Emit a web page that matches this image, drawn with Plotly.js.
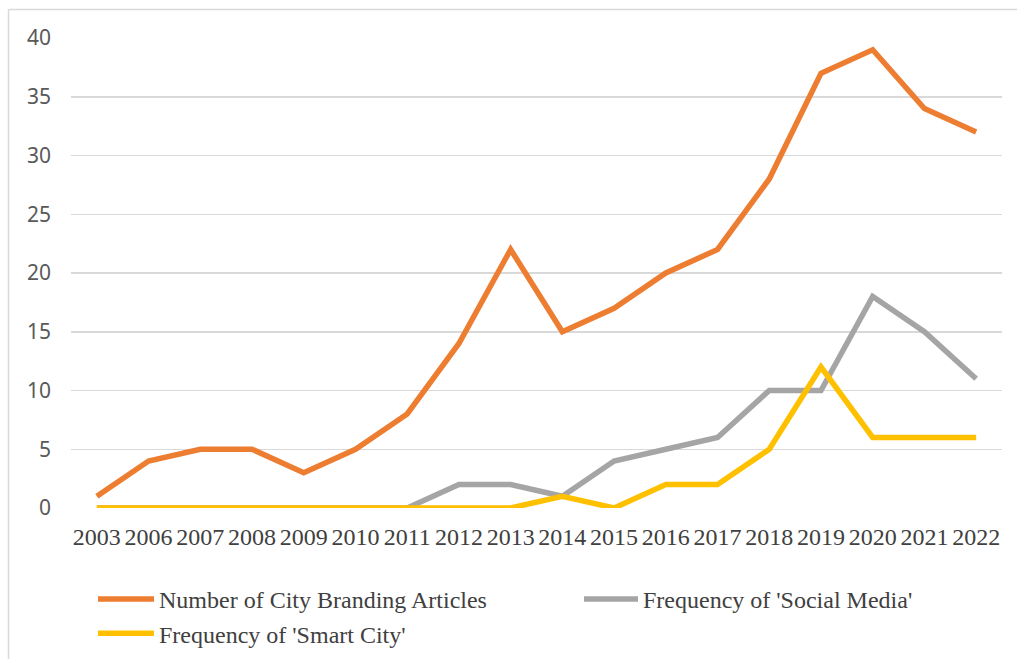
<!DOCTYPE html>
<html>
<head>
<meta charset="utf-8">
<script src="https://cdn.plot.ly/plotly-3.0.1.min.js"></script>
<style>html,body{margin:0;padding:0;background:#fff;}#chart{width:1017px;height:659px;}</style>
</head>
<body>
<div id="chart"></div>
<script>
const years = ["2003","2006","2007","2008","2009","2010","2011","2012","2013","2014","2015","2016","2017","2018","2019","2020","2021","2022"];
const cityBranding = [1,4,5,5,3,5,8,14,22,15,17,20,22,28,37,39,34,32];
const socialMedia = [0,0,0,0,0,0,0,2,2,1,4,5,6,10,10,18,15,11];
const smartCity = [0,0,0,0,0,0,0,0,0,1,0,2,2,5,12,6,6,6];
const seriesNames = ["Number of City Branding Articles","Frequency of 'Social Media'","Frequency of 'Smart City'"];
const yTicks = [0,5,10,15,20,25,30,35,40];

const L = 71, R = 1002, T = 38, B = 508;
const pw = R - L, ph = B - T;
const px = x => (x - L) / pw;
const py = y => (B - y) / ph;

const legendFont = {family: 'Liberation Serif, Times New Roman, serif', size: 24, color: '#404040'};

const traces = [
  {x: years, y: cityBranding, name: seriesNames[0], color: '#ED7D31', legend: 'legend', group: 'a'},
  {x: years, y: socialMedia, name: seriesNames[1], color: '#A5A5A5', legend: 'legend2', group: 'b'},
  {x: years, y: smartCity, name: seriesNames[2], color: '#FFC000', legend: 'legend', group: 'c'}
].map(s => ({
  type: 'scatter', mode: 'lines', x: s.x, y: s.y, name: s.name,
  legend: s.legend, legendgroup: s.group,
  line: {color: s.color, width: 5.5, shape: 'linear'},
  hoverinfo: 'x+y'
}));

const layout = {
  width: 1017, height: 659,
  margin: {l: L, r: 1017 - R, t: T, b: 659 - B, autoexpand: false},
  paper_bgcolor: '#fff', plot_bgcolor: '#fff',
  showlegend: true,
  legend: {
    orientation: 'v', x: px(93), xanchor: 'left', y: py(577), yanchor: 'top',
    font: legendFont, traceorder: 'grouped', tracegroupgap: 0,
    itemwidth: 56, bgcolor: 'rgba(0,0,0,0)'
  },
  legend2: {
    orientation: 'v', x: px(579), xanchor: 'left', y: py(577), yanchor: 'top',
    font: legendFont, itemwidth: 54, bgcolor: 'rgba(0,0,0,0)'
  },
  xaxis: {
    type: 'category', categoryorder: 'array', categoryarray: years,
    range: [-0.5, years.length - 0.5],
    showgrid: false, zeroline: false, showline: false, ticks: '',
    ticklabelstandoff: 12,
    tickfont: {family: 'Liberation Serif, Times New Roman, serif', size: 24, color: '#404040'},
    tickangle: 0, fixedrange: true
  },
  yaxis: {
    range: [0, 40], tickvals: yTicks, ticktext: yTicks.map(String),
    showgrid: true, gridcolor: '#d9d9d9', gridwidth: 1.5,
    zeroline: false, showline: false, ticks: '',
    ticklabelstandoff: 19,
    tickfont: {family: 'Noto Sans, Liberation Sans, sans-serif', size: 21, color: '#595959'},
    fixedrange: true
  },
  shapes: [
    {type: 'line', xref: 'paper', yref: 'paper', x0: px(8.5), x1: px(8.5), y0: py(9.5), y1: py(670), line: {color: '#d9d9d9', width: 1.5}},
    {type: 'line', xref: 'paper', yref: 'paper', x0: px(8.5), x1: px(1030), y0: py(9.5), y1: py(9.5), line: {color: '#d9d9d9', width: 1.5}}
  ]
};

Plotly.newPlot('chart', traces, layout, {displayModeBar: false, staticPlot: true});
</script>
</body>
</html>
